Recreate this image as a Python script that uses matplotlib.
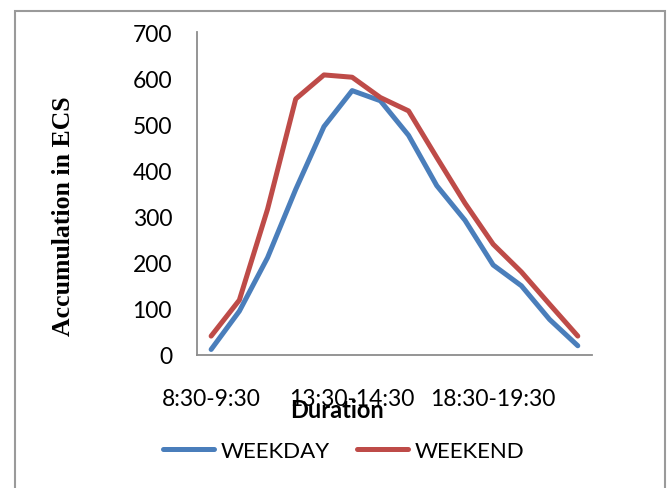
import matplotlib
matplotlib.use("Agg")
import matplotlib.pyplot as plt
from matplotlib.patches import Rectangle

# time slots (hourly) and accumulation values
slots = ["8:30-9:30", "9:30-10:30", "10:30-11:30", "11:30-12:30", "12:30-13:30",
         "13:30-14:30", "14:30-15:30", "15:30-16:30", "16:30-17:30", "17:30-18:30",
         "18:30-19:30", "19:30-20:30", "20:30-21:30", "21:30-22:30"]
weekday = [12, 95, 211, 359, 495, 573, 551, 476, 367, 292, 195, 150, 77, 20]
weekend = [41, 119, 316, 555, 607, 602, 558, 529, 428, 329, 240, 180, 110, 41]
yticks = [0, 100, 200, 300, 400, 500, 600, 700]

plt.rcParams['font.family'] = ['Lato', 'DejaVu Sans']

fig = plt.figure(figsize=(6.67, 4.89), dpi=100)
ax = fig.add_axes([0.2954, 0.272, 0.592, 0.6605])

x = list(range(len(slots)))
ax.plot(x, weekday, color="#4A7EBB", linewidth=3.6, label="WEEKDAY", solid_capstyle="round")
ax.plot(x, weekend, color="#BE4B48", linewidth=3.6, label="WEEKEND", solid_capstyle="round")

ax.set_xlim(-0.5, len(slots) - 0.5)
ax.set_ylim(0, 700)
ax.set_yticks(yticks)
ax.set_xticks(x[::5])
ax.set_xticklabels(slots[::5])
ax.tick_params(axis="both", length=0, labelsize=16.5)
ax.tick_params(axis="y", pad=18)
ax.tick_params(axis="x", pad=24)

for s in ["top", "right"]:
    ax.spines[s].set_visible(False)
for s in ["left", "bottom"]:
    ax.spines[s].set_color("#8c8c8c")
    ax.spines[s].set_linewidth(1.3)

fig.text(63 / 667, 1 - 216 / 489, "Accumulation in ECS", rotation=90,
         ha="center", va="center", fontsize=18.5, fontweight="bold",
         family=["Liberation Serif"])
fig.text(337 / 667, 1 - 411 / 489, "Duration", ha="center", va="center",
         fontsize=17, fontweight="bold")

fig.legend(loc="center", bbox_to_anchor=(0.515, 1 - 452 / 489), ncol=2, frameon=False,
           fontsize=16, handlelength=2.3, handletextpad=0.3, columnspacing=1.2)

fig.patches.append(Rectangle((15 / 667, -0.1), 650 / 667, 1 - 12 / 489 + 0.1,
                             transform=fig.transFigure, fill=False,
                             edgecolor="#9a9a9a", linewidth=1.5))

fig.savefig("out.png", dpi=100)
